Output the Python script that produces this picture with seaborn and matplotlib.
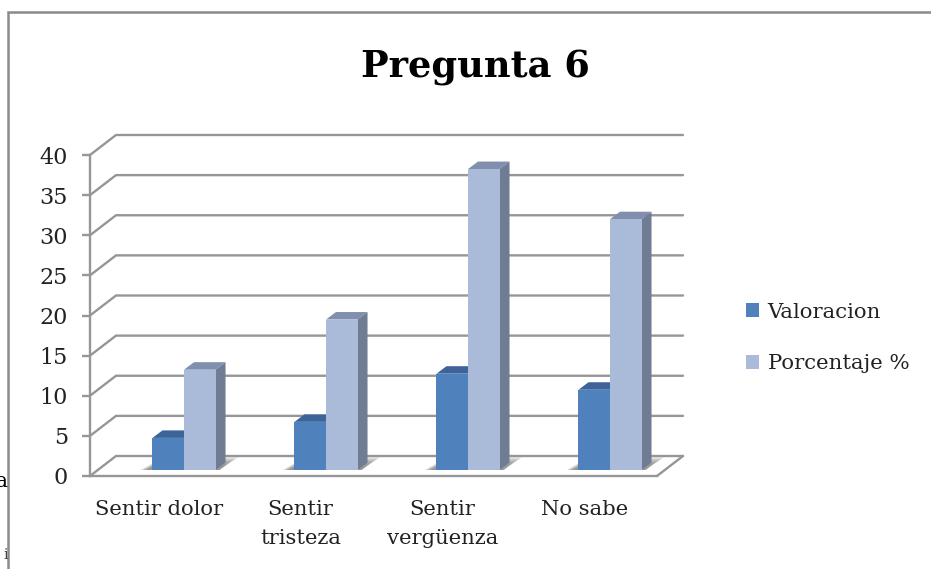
import matplotlib
matplotlib.use("Agg")
import matplotlib.pyplot as plt
from matplotlib.patches import Polygon, Patch
from matplotlib.transforms import ScaledTranslation
import pandas as pd
import seaborn as sns

categories = ["Sentir dolor", "Sentir\ntristeza", "Sentir\nvergüenza", "No sabe"]
valoracion = [4, 6, 12, 10]
porcentaje = [12.5, 18.75, 37.5, 31.25]
series_names = ["Valoracion", "Porcentaje %"]
y_ticks = [0, 5, 10, 15, 20, 25, 30, 35, 40]

FRONT = ["#4f81bd", "#aabbd9"]
TOP = ["#3c639a", "#7f8fad"]
SIDE = ["#38608f", "#6f7c93"]
GRID = "#969696"
TEXT = "#222222"

W, H = 931, 569
sns.set_theme(style="white")
plt.rcParams["font.family"] = ["DejaVu Serif"]

fig = plt.figure(figsize=(W / 100, H / 100), dpi=100, facecolor="white")


def axes_px(left, right, top, bottom):
    a = fig.add_axes([left / W, 1 - bottom / H, (right - left) / W, (bottom - top) / H])
    a.patch.set_alpha(0)
    return a


# Frame around the chart, open towards the page edges
frame = fig.add_axes([0, 0, 1, 1])
frame.set_xlim(0, W)
frame.set_ylim(H, 0)
frame.axis("off")
frame.text(8, 481, "ca", ha="right", va="center", fontsize=15, color="black")
frame.text(8, 555, "i", ha="right", va="center", fontsize=10, color="#444444")
frame.plot([8, 8, W], [H, 12, 12], color="#8a8a8a", lw=1.8, solid_joinstyle="miter")

# Walls: front plane carries the value scale, the back plane is offset in depth
ax = axes_px(90, 657, 155, 476)
ax.set_xlim(-0.5, 3.5)
ax.set_ylim(0, 40)
depth_x = 26 * 4 / 567
depth_y = 20 * 40 / 321
for v in y_ticks:
    ax.plot([-0.5, -0.5 + depth_x, 3.5 + depth_x], [v, v + depth_y, v + depth_y],
            color=GRID, lw=1.7, clip_on=False, solid_joinstyle="miter")
ax.plot([3.5, 3.5 + depth_x], [0, depth_y], color=GRID, lw=1.7, clip_on=False)
sns.despine(ax=ax, top=True, right=True)
for side in ("left", "bottom"):
    ax.spines[side].set_color(GRID)
    ax.spines[side].set_linewidth(1.7)
ax.set_yticks(y_ticks)
ax.set_xticks(range(len(categories)))
ax.set_xticklabels(categories, fontsize=15.2, color=TEXT, linespacing=1.72, va="top")
ax.tick_params(axis="x", length=0, pad=17)
ax.tick_params(axis="y", length=6, width=1.7, color=GRID, labelsize=16,
               labelcolor=TEXT, pad=10, left=True)
nudge = ScaledTranslation(-2 / 100, 0, fig.dpi_scale_trans)
for label in ax.get_xticklabels():
    label.set_transform(label.get_transform() + nudge)

# Bars stand half way into the depth of the floor
bars_ax = axes_px(113, 681, 149, 470)
table = pd.DataFrame({
    "categoria": categories * 2,
    "serie": [series_names[0]] * 4 + [series_names[1]] * 4,
    "valor": valoracion + porcentaje,
})
sns.barplot(data=table, x="categoria", y="valor", hue="serie", hue_order=series_names,
            palette=FRONT, width=0.444, gap=0, saturation=1, legend=False, ax=bars_ax,
            linewidth=0, edgecolor="none", zorder=5)
bars_ax.set_xlim(-0.5, 3.5)
bars_ax.set_ylim(0, 40)
bars_ax.axis("off")

bar_dx = 10 * 4 / 568
bar_dy = 7.5 * 40 / 321
for cont, top_c, side_c in zip(bars_ax.containers, TOP, SIDE):
    for bar in cont:
        x0, w, h = bar.get_x(), bar.get_width(), bar.get_height()
        x1 = x0 + w
        bars_ax.add_patch(Polygon([(x0, h), (x1, h), (x1 + bar_dx, h + bar_dy), (x0 + bar_dx, h + bar_dy)],
                                  fc=top_c, ec="none", zorder=4, clip_on=False))
        bars_ax.add_patch(Polygon([(x1, 0), (x1 + bar_dx, bar_dy), (x1 + bar_dx, h + bar_dy), (x1, h)],
                                  fc=side_c, ec="none", zorder=4, clip_on=False))

# Soft shadow cast on the floor behind each pair of bars, built from stacked layers
px_x = 4 / 568
px_y = 40 / 321
layers = 9
for i in range(len(categories)):
    left = bars_ax.containers[0][i].get_x()
    right = bars_ax.containers[1][i].get_x() + bars_ax.containers[1][i].get_width()
    for k in range(layers):
        grow = 1 - 0.6 * k / layers
        base_l = left - 12 * px_x * grow
        top_r = right + 23 * px_x * grow
        rise = 13 * px_y * grow
        bars_ax.add_patch(Polygon([(base_l, 0), (right + 4 * px_x, 0), (top_r, rise), (base_l + 23 * px_x * grow, rise)],
                                  fc="#666666", ec="none", alpha=0.11, zorder=1, clip_on=False))

# Title and legend
frame.text(475, 68, "Pregunta 6", ha="center", va="center", fontsize=26.5, fontweight="bold", color="black")
handles = [Patch(fc=FRONT[0], ec="none"), Patch(fc=FRONT[1], ec="none")]
fig.legend(handles, series_names, loc="center left", bbox_to_anchor=(746 / W, 1 - 338 / H),
           frameon=False, fontsize=15.3, labelcolor=TEXT, handlelength=0.62, handleheight=0.62,
           handletextpad=0.4, labelspacing=1.55, borderpad=0, borderaxespad=0)

fig.savefig("out.png", dpi=100)
